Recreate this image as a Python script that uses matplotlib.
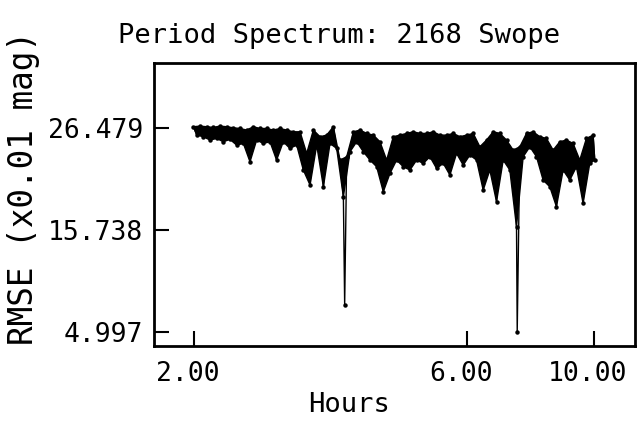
"""Period spectrum (RMSE vs trial period) for 2168 Swope."""

import numpy as np
import matplotlib
matplotlib.use("Agg")
import matplotlib.pyplot as plt
import matplotlib.transforms as mtransforms

matplotlib.rcParams.update(
    {
        "font.family": "DejaVu Sans Mono",
        "axes.linewidth": 2.0,
        "xtick.direction": "in",
        "ytick.direction": "in",
    }
)

TITLE = "Period Spectrum: 2168 Swope"
XLABEL = "Hours"
YLABEL = "RMSE (x0.01 mag)"

XTICKS = [2.0, 6.0, 10.0]
XTICK_LABELS = ["2.00", "6.00", "10.00"]
YTICKS = [4.997, 15.738, 26.479]
YTICK_LABELS = ["4.997", "15.738", "26.479"]

# upper edge of the noisy band: period (hours), RMSE (x0.01 mag)
period_top = [
    1.995, 2.049, 2.104, 2.161, 2.220, 2.281, 2.343, 2.406, 2.472, 2.539,
    2.608, 2.679, 2.751, 2.826, 2.903, 2.982, 3.064, 3.147, 3.233, 3.321,
    3.411, 3.504, 3.599, 3.697, 3.798, 3.901, 4.007, 4.116, 4.227, 4.342,
    4.460, 4.581, 4.706, 4.834, 4.965, 5.100, 5.239, 5.381, 5.527, 5.678,
    5.832, 5.990, 6.153, 6.320, 6.492, 6.668, 6.849, 7.035, 7.227, 7.423,
    7.625, 7.832, 8.045, 8.263, 8.488, 8.718, 8.955, 9.199, 9.449, 9.705,
    9.969,
]
rmse_top = [
    26.62, 26.69, 26.62, 26.55, 26.69, 26.62, 26.51, 26.44, 26.27, 26.62,
    26.44, 26.44, 26.27, 26.44, 26.27, 26.09, 26.09, 23.81, 26.27, 25.57,
    25.74, 26.62, 23.11, 23.46, 26.09, 26.27, 25.92, 25.74, 25.04, 23.11,
    25.57, 25.74, 25.92, 26.09, 25.92, 25.92, 26.09, 25.74, 25.74, 25.92,
    25.57, 25.74, 25.92, 24.51, 25.22, 26.09, 25.92, 25.22, 24.16, 24.51,
    25.92, 26.09, 25.57, 25.39, 24.16, 25.04, 25.22, 24.86, 23.11, 25.39,
    25.74,
]

# lower edge of the band
period_bot = [
    2.022, 2.076, 2.133, 2.191, 2.250, 2.311, 2.374, 2.439, 2.505, 2.573,
    2.643, 2.715, 2.788, 2.864, 2.942, 3.023, 3.105, 3.190, 3.277, 3.366,
    3.457, 3.551, 3.648, 3.747, 3.849, 3.953, 4.061, 4.171, 4.284, 4.401,
    4.520, 4.643, 4.769, 4.899, 5.032, 5.169, 5.309, 5.454, 5.602, 5.754,
    5.910, 6.071, 6.236, 6.405, 6.579, 6.758, 6.942, 7.130, 7.324, 7.523,
    7.728, 7.938, 8.153, 8.375, 8.602, 8.836, 9.076, 9.323, 9.576, 9.836,
    10.036,
]
rmse_bot = [
    25.74, 25.57, 25.22, 25.39, 25.04, 25.29, 24.69, 24.86, 22.93, 25.22,
    24.86, 25.04, 23.11, 25.04, 24.34, 24.69, 22.06, 20.48, 24.69, 20.30,
    24.86, 24.34, 19.25, 23.99, 25.04, 23.99, 23.11, 22.41, 19.78, 21.71,
    23.11, 22.41, 22.06, 23.11, 22.76, 23.46, 22.23, 22.76, 21.53, 23.81,
    22.58, 23.64, 23.11, 19.95, 22.06, 18.72, 23.11, 22.06, 16.09, 23.46,
    24.51, 23.46, 21.00, 20.30, 18.20, 22.06, 21.00, 22.41, 18.55, 22.76,
    23.11,
]

# the two deep single-point minima
period_min = [3.667, 7.345]
rmse_min = [7.84, 5.03]


def main():
    fig = plt.figure(figsize=(6.39, 4.21), dpi=100)
    ax = fig.add_axes([0.241, 0.178, 0.7527, 0.672])

    # solid band between the upper and lower edges
    ax.fill(period_top + period_bot[::-1], rmse_top + rmse_bot[::-1],
            color="black", linewidth=1.0, zorder=2)

    # the full trace (all points in period order) on top
    px = np.array(period_top + period_bot + period_min)
    py = np.array(rmse_top + rmse_bot + rmse_min)
    order = np.argsort(px)
    ax.plot(px[order], py[order], color="black", linewidth=1.0, marker="o",
            markersize=2.2, zorder=3)

    ax.set_xscale("log")
    ax.set_xlim(1.702, 11.80)
    ax.set_ylim(3.52, 33.32)
    ax.minorticks_off()

    ax.set_xticks(XTICKS)
    ax.set_xticklabels(XTICK_LABELS)
    ax.set_yticks(YTICKS)
    ax.set_yticklabels(YTICK_LABELS)
    ax.tick_params(axis="both", length=11, width=1.5, labelsize=19)
    ax.tick_params(axis="x", pad=11)
    ax.tick_params(axis="y", pad=8)

    shift = mtransforms.ScaledTranslation(-6 / 100, 0, fig.dpi_scale_trans)
    for lbl in ax.get_xticklabels():
        lbl.set_transform(lbl.get_transform() + shift)

    fig.text(0.531, 0.898, TITLE, ha="center", va="baseline", fontsize=19.5)
    fig.text(0.546, 0.022, XLABEL, ha="center", va="baseline", fontsize=19.5)
    fig.text(0.037, 0.553, YLABEL, ha="center", va="center", rotation=90,
             fontsize=23.5)

    fig.savefig("out.png", dpi=100)
    plt.close(fig)


if __name__ == "__main__":
    main()
